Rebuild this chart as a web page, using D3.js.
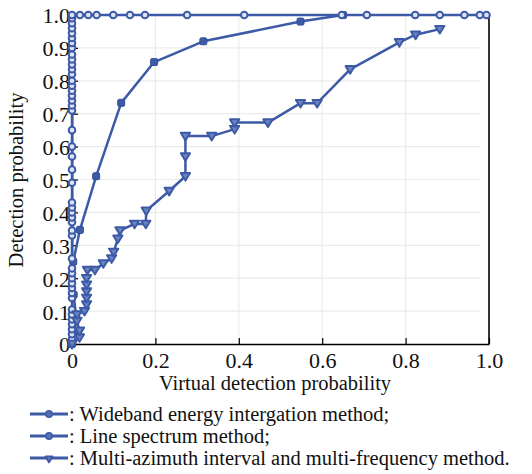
<!DOCTYPE html>
<html>
<head>
<meta charset="utf-8">
<title>ROC curves</title>
<style>
  body { margin: 0; background: #fff; }
</style>
</head>
<body>
<script src="https://cdn.jsdelivr.net/npm/d3@7"></script>
<script>
// wideband energy integration (filled squares)
var widebandX = [0, 0.005, 0.01, 0.004, 0.003, 0.019, 0.058, 0.118, 0.197, 0.315, 0.548, 0.65];
var widebandY = [0, 0.04, 0.08, 0.15, 0.25, 0.347, 0.51, 0.733, 0.857, 0.92, 0.98, 1.0];

// line spectrum (open circles)
var lineX = [0, 0, 0, 0, 0, 0, 0, 0, 0, 0, 0, 0, 0, 0, 0, 0, 0, 0, 0, 0, 0, 0, 0, 0, 0, 0, 0, 0,
  0, 0, 0, 0, 0, 0, 0, 0, 0, 0, 0, 0, 0, 0, 0, 0, 0, 0, 0, 0,
  0.019, 0.039, 0.059, 0.099, 0.139, 0.175, 0.276, 0.413, 0.647, 0.707, 0.823, 0.882, 0.941, 0.978, 0.994];
var lineY = [0, 0.015, 0.03, 0.045, 0.06, 0.075, 0.09, 0.105, 0.14, 0.155, 0.17, 0.185, 0.2, 0.215, 0.23, 0.26,
  0.33, 0.345, 0.37, 0.385, 0.4, 0.415, 0.43, 0.49, 0.53, 0.57, 0.6, 0.65,
  0.71, 0.725, 0.74, 0.755, 0.77, 0.785, 0.8, 0.82, 0.835, 0.85, 0.865, 0.88, 0.9, 0.915, 0.93, 0.945, 0.96, 0.975, 0.99, 1.0,
  1, 1, 1, 1, 1, 1, 1, 1, 1, 1, 1, 1, 1, 1, 1];

// multi-azimuth interval and multi-frequency (down triangles)
var multiX = [0, 0.018, 0.018, 0.012, 0.012, 0.03, 0.035, 0.035, 0.035, 0.035, 0.035, 0.037, 0.055, 0.075, 0.095,
  0.1, 0.11, 0.115, 0.15, 0.177, 0.178, 0.233, 0.272, 0.272, 0.272, 0.335, 0.39, 0.39, 0.47, 0.548, 0.588, 0.667,
  0.785, 0.824, 0.882];
var multiY = [0, 0.02, 0.04, 0.07, 0.09, 0.1, 0.12, 0.14, 0.16, 0.18, 0.2, 0.225, 0.225, 0.245, 0.26,
  0.28, 0.32, 0.345, 0.365, 0.365, 0.405, 0.465, 0.51, 0.57, 0.632, 0.632, 0.653, 0.673, 0.673, 0.732, 0.732, 0.835,
  0.917, 0.94, 0.957];

var xTicks = [0, 0.2, 0.4, 0.6, 0.8, 1.0];
var yTicks = [0, 0.1, 0.2, 0.3, 0.4, 0.5, 0.6, 0.7, 0.8, 0.9, 1.0];
var legendNames = [": Wideband energy intergation method;", ": Line spectrum method;",
  ": Multi-azimuth interval and multi-frequency method."];

var blue = "#3d5aa6";
var serif = "'Liberation Serif'";
var W = 532, H = 474;
var m = { left: 72, top: 15 }, pw = 417, ph = 329;

var svg = d3.select("body").append("svg").attr("width", W).attr("height", H);
var x = d3.scaleLinear().domain([0, 1]).range([m.left, m.left + pw]);
var y = d3.scaleLinear().domain([0, 1]).range([m.top + ph, m.top]);

// grid
svg.append("g").selectAll("line").data(yTicks.slice(1, -1)).enter().append("line")
  .attr("x1", x(0)).attr("x2", x(0.98)).attr("y1", function (d) { return y(d); }).attr("y2", function (d) { return y(d); })
  .style("stroke", "#ebebeb").style("stroke-width", 1.2);
svg.append("g").selectAll("line").data(xTicks.slice(1, -1)).enter().append("line")
  .attr("y1", y(0)).attr("y2", y(1)).attr("x1", function (d) { return x(d); }).attr("x2", function (d) { return x(d); })
  .style("stroke", "#ebebeb").style("stroke-width", 1.2);

// axes
var fmt = function (d) { return d === 0 ? "0" : d3.format(".1f")(d); };
var xAxis = svg.append("g").attr("transform", "translate(0," + y(0) + ")")
  .call(d3.axisBottom(x).tickValues(xTicks).tickFormat(fmt).tickSizeInner(-6).tickSizeOuter(0).tickPadding(8));
var yAxis = svg.append("g").attr("transform", "translate(" + x(0) + ",0)")
  .call(d3.axisLeft(y).tickValues(yTicks).tickFormat(fmt).tickSizeInner(-6).tickSizeOuter(0).tickPadding(2));
[xAxis, yAxis].forEach(function (a) {
  a.select(".domain").style("stroke", "#000").style("stroke-width", 1.6);
  a.selectAll(".tick line").style("stroke", "#000").style("stroke-width", 1.2);
  a.selectAll(".tick text").style("font-family", serif).style("font-size", "22px").style("fill", "#111");
});
xAxis.selectAll(".tick text").attr("dy", "0.71em");
yAxis.selectAll(".tick text").attr("dy", "0.36em");
// top & right frame
svg.append("line").attr("x1", x(0)).attr("x2", x(1)).attr("y1", y(1)).attr("y2", y(1)).style("stroke", "#000").style("stroke-width", 1.6);
svg.append("line").attr("x1", x(1)).attr("x2", x(1)).attr("y1", y(1)).attr("y2", y(0)).style("stroke", "#000").style("stroke-width", 1.6);

// axis titles
svg.append("text").attr("x", 275).attr("y", 390).attr("text-anchor", "middle")
  .style("font-family", serif).style("font-size", "20.5px").style("fill", "#111")
  .text("Virtual detection probability");
svg.append("text").attr("transform", "translate(23,180) rotate(-90)").attr("text-anchor", "middle")
  .style("font-family", serif).style("font-size", "20.5px").style("fill", "#111")
  .text("Detection probability");

function pts(xs, ys) { return xs.map(function (v, i) { return [v, ys[i]]; }); }
var line = d3.line().x(function (d) { return x(d[0]); }).y(function (d) { return y(d[1]); });

function drawMarker(g, kind, cx, cy, s) {
  if (kind === "square") {
    g.append("rect").attr("x", cx - 3.5 * s).attr("y", cy - 3.5 * s).attr("width", 7 * s).attr("height", 7 * s)
      .attr("rx", 1.5 * s).style("fill", blue).style("stroke", "#34509a").style("stroke-width", 1);
  } else if (kind === "circle") {
    g.append("circle").attr("cx", cx).attr("cy", cy).attr("r", 3.3 * s)
      .style("fill", "#dfe4f2").style("stroke", blue).style("stroke-width", 2);
  } else {
    var r = 4.6 * s;
    g.append("path").attr("d", "M" + (cx - r) + "," + (cy - r * 0.7) + "L" + (cx + r) + "," + (cy - r * 0.7) + "L" + cx + "," + (cy + r * 0.95) + "Z")
      .style("fill", "#6d84c0").style("stroke", blue).style("stroke-width", 2).style("stroke-linejoin", "round");
  }
}

var series = [
  { data: pts(widebandX, widebandY), kind: "square" },
  { data: pts(lineX, lineY), kind: "circle" },
  { data: pts(multiX, multiY), kind: "tri" }
];
series.forEach(function (s) {
  svg.append("path").datum(s.data).attr("d", line)
    .style("fill", "none").style("stroke", blue).style("stroke-width", 2.5).style("stroke-linejoin", "round");
});
series.forEach(function (s) {
  var g = svg.append("g");
  s.data.forEach(function (d) { drawMarker(g, s.kind, x(d[0]), y(d[1]), 1); });
});

// legend
var legKinds = ["circle", "circle", "tri"];
legendNames.forEach(function (name, i) {
  var ly = 414 + i * 22;
  svg.append("line").attr("x1", 30).attr("x2", 68).attr("y1", ly).attr("y2", ly)
    .style("stroke", blue).style("stroke-width", 3);
  var g = svg.append("g");
  if (legKinds[i] === "tri") drawMarker(g, "tri", 49, ly + 1, 0.75);
  else g.append("circle").attr("cx", 49).attr("cy", ly).attr("r", 3.2).style("fill", "#5670b4").style("stroke", blue).style("stroke-width", 1.5);
  svg.append("text").attr("x", 69).attr("y", ly + 6.5)
    .style("font-family", serif).style("font-size", "20.5px").style("fill", "#111").text(name);
});
</script>
</body>
</html>
